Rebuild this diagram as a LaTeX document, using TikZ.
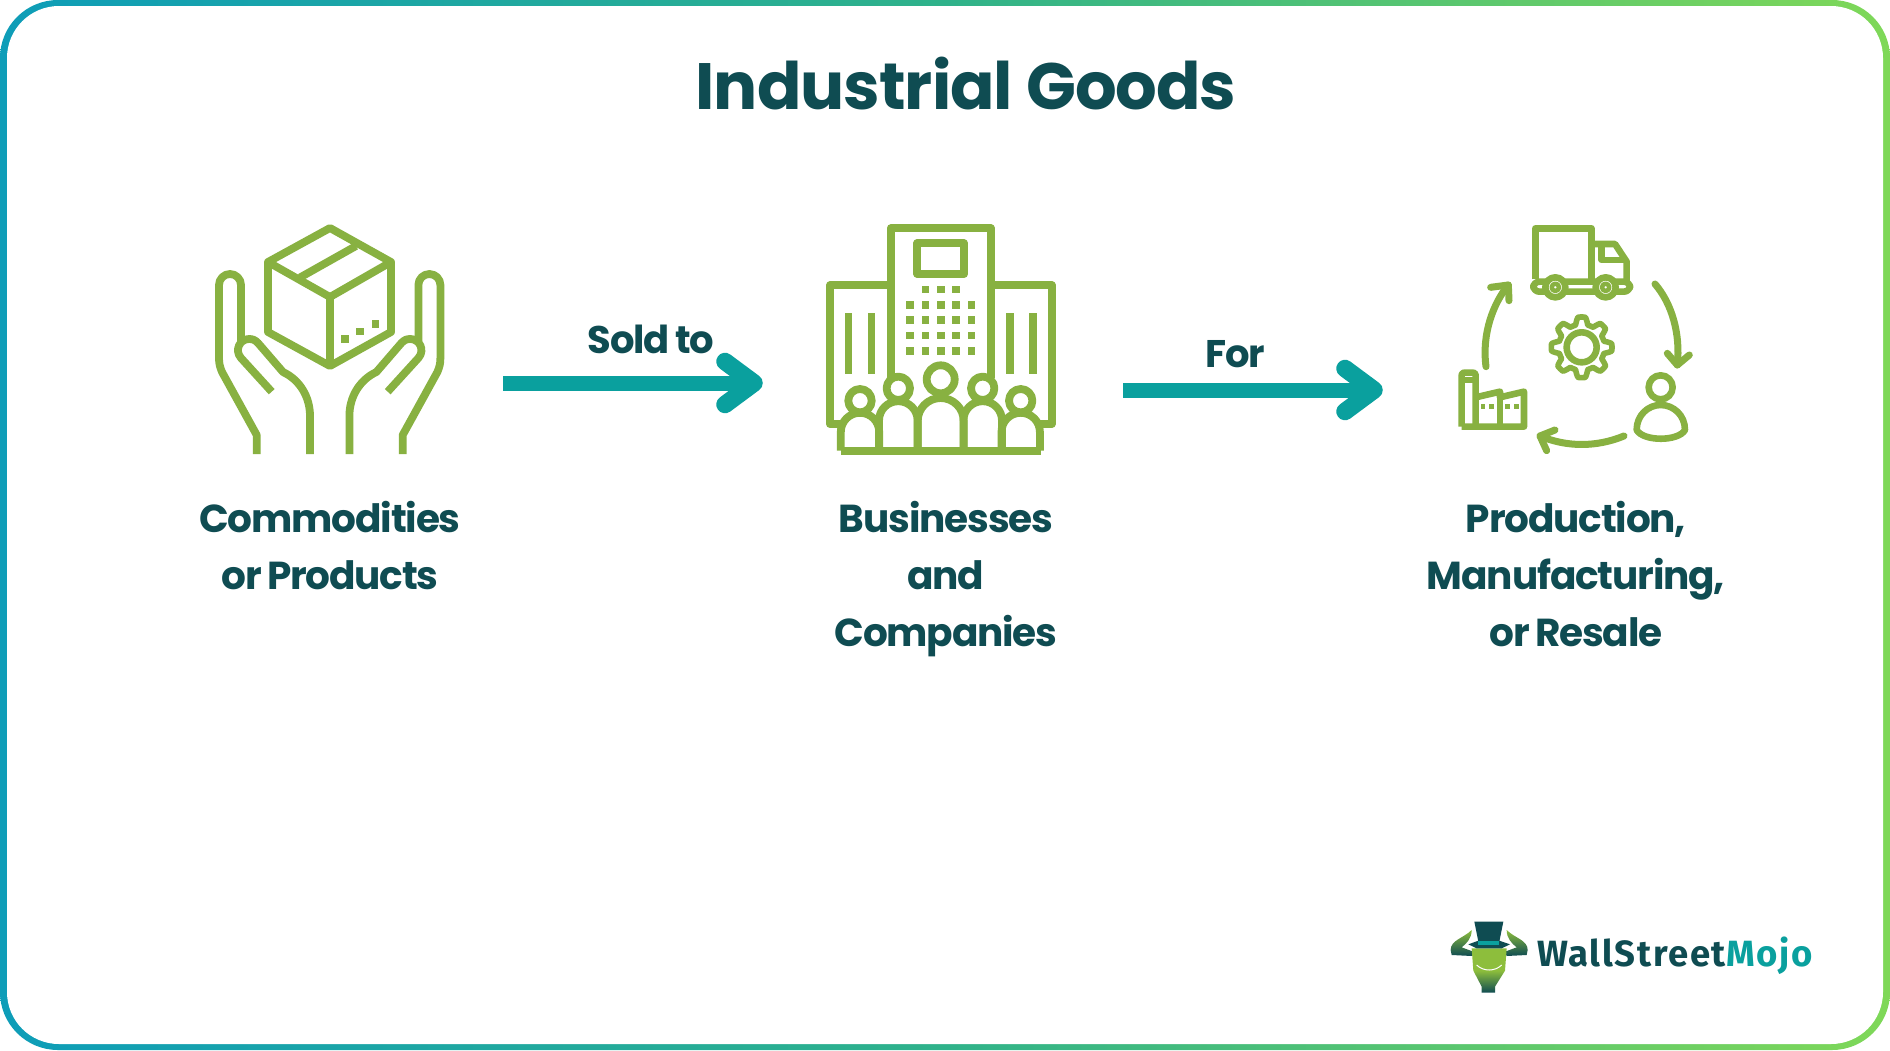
\documentclass[tikz,border=0pt]{standalone}
\usepackage{fontspec}
\setmainfont{Poppins}
\newfontfamily\titlefont{Poppins}[LetterSpace=-1.5]
\newfontfamily\capfont{Poppins}[LetterSpace=-3,WordSpace=0.75]
\newfontfamily\logofont{Fira Sans}[LetterSpace=4.5]
\usetikzlibrary{arrows.meta}
\definecolor{dteal}{HTML}{0F4C52}
\definecolor{mteal}{HTML}{0AA09E}
\definecolor{igreen}{HTML}{88B141}
\definecolor{bleft}{HTML}{0E9DB8}
\definecolor{bmid}{HTML}{2FB28A}
\definecolor{bright}{HTML}{7FD858}
\definecolor{lgreen}{HTML}{8DBE3C}
\tikzset{
 icon/.style={draw=igreen,line width=7.8pt,line join=round},
 smallicon/.style={draw=igreen,line width=6.6pt,line join=round},
 roundicon/.style={draw=igreen,line width=7pt,line join=round,line cap=round},
 dot/.style={fill=igreen},
 titlelabel/.style={font=\titlefont\bfseries\fontsize{65.5}{72}\selectfont,text=dteal,inner sep=0pt},
 caption/.style={font=\capfont\bfseries\fontsize{39}{57}\selectfont,text=dteal,align=center,inner sep=0pt,anchor=north},
 edgelabel/.style={font=\capfont\bfseries\fontsize{38.5}{44}\selectfont,text=dteal,inner sep=0pt},
 flow/.style={draw=mteal,line width=15pt},
 flowhead/.style={draw=mteal,line width=17.5pt,line cap=round,line join=round},
}
\begin{document}
\begin{tikzpicture}[x=1pt,y=-1pt]
\useasboundingbox (0,0) rectangle (1890,1050);
\fill[white] (0,0) rectangle (1890,1050);
% border
\shade[left color=bleft,right color=bright,middle color=bmid,rounded corners=58pt] (0,0) rectangle (1890,1050);
\fill[white,rounded corners=52pt] (7,6) rectangle (1883,1044);
% title
\node[titlelabel] (title) at (966,84) {Industrial Goods};
% hands and box
\begin{scope}[shift={(190,200)}]
 \draw[icon] (140,28) -- (78,62) -- (78,132) -- (140,166) -- (201,132) -- (201,62) -- cycle;
 \draw[icon] (78,62) -- (140,97) -- (201,62);
 \draw[icon] (140,97) -- (140,166);
 \draw[icon] (110,77.5) -- (166,46);
 \fill[dot] (151,135) rectangle +(7.7,7.7);
 \fill[dot] (166.3,127.7) rectangle +(7.7,7.7);
 \fill[dot] (181.7,120) rectangle +(7.7,7.7);
\end{scope}
\foreach \sh/\sc in {190/1,469.4/-1}{
\begin{scope}[shift={(\sh,200)},xscale=\sc]
 \draw[icon] (66.7,254) -- (66.7,235) -- (32,172) .. controls (30,167) and (29,164) .. (29,158) -- (29,85) arc[start angle=180,end angle=360,radius=11] -- (51,141);
 \draw[icon] (81.7,191.7) -- (51,158) .. controls (44,150) and (50,139) .. (59,139) .. controls (63,139) and (65,140) .. (68,143) -- (93,172) .. controls (110,180) and (120,197) .. (120,216) -- (120,254);
\end{scope}}
% buildings
\begin{scope}[shift={(810,210)}]
 \draw[icon] (80.7,168) -- (80.7,18.3) -- (180.7,18.3) -- (180.7,168);
 \draw[icon] (80.7,75.3) -- (20,75.3) -- (20,214) -- (32,214);
 \draw[icon] (180.7,75.3) -- (241.7,75.3) -- (241.7,214) -- (229,214);
 \draw[icon] (107.3,33.3) rectangle (154,64);
 \foreach \x in {346,392,438} \fill[dot] ({(\x-11.5)/3},{(238-11.5)/3}) rectangle +(7.7,7.7);
 \foreach \x in {300,346,392,438,484} \foreach \y in {284,330,376,422}
   \fill[dot] ({(\x-11.5)/3},{(\y-11.5)/3}) rectangle +(7.7,7.7);
 \foreach \x in {104,173,588,657} \fill[dot] ({\x/3},{308/3}) rectangle ({(\x+23)/3},{492/3});
 \draw[icon] (130.7,169.3) circle[radius=14];
 \draw[icon] (107.7,240.7) -- (107.7,211) arc[start angle=180,end angle=360,radius=23] -- (153.7,240.7);
 \foreach \c in {88.3,172.7}{
  \draw[icon] (\c,178.3) circle[radius=11.7];
  \draw[icon] ({\c-19.3},240.7) -- ({\c-19.3},210.5) arc[start angle=180,end angle=360,radius=19.3] -- ({\c+19.3},240.7);
 }
 \foreach \c in {50,210.7}{
  \draw[icon] (\c,190.7) circle[radius=11.7];
  \draw[icon] ({\c-19.2},240.7) -- ({\c-19.2},222) arc[start angle=180,end angle=360,radius=19.2] -- ({\c+19.2},240.7);
 }
 \draw[icon] (30.7,240.7) -- (230.7,240.7);
\end{scope}
% cycle icon
\begin{scope}[shift={(1440,210)},x=0.3333pt,y=-0.3333pt]
 \draw[smallicon] (286,208) -- (286,55) -- (454,55) -- (454,215);
 \draw[smallicon] (454,102) -- (525,102) -- (560,155) -- (560,215);
 \draw[smallicon] (485,102) -- (485,150) -- (560,150);
 \draw[smallicon,rounded corners=6pt] (280,215) rectangle (570,245);
 \foreach \c in {346,497}{
  \fill[white] (\c,232) circle[radius=32];
  \draw[smallicon] (\c,232) circle[radius=30];
  \draw[smallicon,line width=4.5pt] (\c,232) circle[radius=11];
 }
 \draw[roundicon] (645,222) .. controls (695,280) and (722,370) .. (712,465);
 \draw[roundicon] (682,430) -- (712,465) -- (748,435);
 \draw[roundicon] (138,470) .. controls (125,370) and (160,280) .. (205,225);
 \draw[roundicon] (152,232) -- (205,225) -- (207,272);
 \draw[roundicon] (552,678) .. controls (470,712) and (380,712) .. (300,678);
 \draw[roundicon] (345,660) -- (300,678) -- (320,722);
 \begin{scope}[shift={(425,412)}]
  \draw[smallicon,line width=5.6pt] plot[domain=0:360,samples=193,smooth] (\x:{80+11*max(-1,min(1,1.8*cos(8*\x)))}) -- cycle;
  \draw[smallicon] (0,0) circle[radius=45];
 \end{scope}
 \draw[smallicon] (662,532) circle[radius=36];
 \draw[smallicon] (590,660) .. controls (590,615) and (625,585) .. (662,585) .. controls (700,585) and (735,615) .. (735,660) .. controls (715,695) and (610,695) .. (590,660) -- cycle;
 \draw[smallicon] (65,650) -- (65,495) .. controls (65,488) and (70,488) .. (75,488) -- (97,488) .. controls (102,488) and (107,488) .. (107,495) -- (107,650);
 \draw[smallicon] (65,510) -- (107,510);
 \draw[smallicon] (65,650) -- (252,650) -- (252,545) -- (180,562) -- (180,545) -- (107,562);
 \draw[smallicon] (180,562) -- (180,650);
 \foreach \x in {122,148,195,222} \fill[dot] (\x,582) rectangle +(14,15);
\end{scope}
% arrows
\coordinate (a1s) at (503,383); \coordinate (a1e) at (754,383);
\coordinate (a2s) at (1123,390); \coordinate (a2e) at (1374,390);
\draw[flow] (a1s) -- (a1e);
\draw[flow] (a2s) -- (a2e);
\draw[flowhead] (a1e) ++(-29,-21.5) -- ++(29,21.5) -- ++(-29,21.5);
\draw[flowhead] (a2e) ++(-29,-21.5) -- ++(29,21.5) -- ++(-29,21.5);
% labels
\node[edgelabel,anchor=base] (sold) at (651,353) {Sold to};
\node[edgelabel,anchor=base] (for) at (1235,367) {For};
\node[caption] (c1) at (330,501) {Commodities\\or Products};
\node[caption] (c2) at (946,501) {Businesses\\and\\Companies};
\node[caption] (c3) at (1576,501) {Production,\\Manufacturing,\\or Resale};
% logo
\begin{scope}[shift={(1430,900)},x=0.3333pt,y=-0.3333pt]
 \shade[top color=lgreen,bottom color=dteal] (125,90) .. controls (100,115) and (62,120) .. (62,150) -- (65,165) -- (125,168) -- (130,155) -- (95,142) .. controls (110,130) and (125,115) .. (125,90) -- cycle;
 \shade[top color=lgreen,bottom color=dteal] (230,90) .. controls (255,115) and (293,120) .. (293,150) -- (290,165) -- (230,168) -- (225,155) -- (260,142) .. controls (245,130) and (230,115) .. (230,90) -- cycle;
 \shade[top color=lgreen,bottom color=dteal,middle color=lgreen] (125,145) -- (230,145) -- (225,212) -- (195,260) -- (195,278) -- (155,278) -- (155,260) -- (130,212) -- cycle;
 \fill[dteal] (133,65) -- (220,65) -- (208,125) -- (145,125) -- cycle;
 \fill[dteal] (115,133) -- (145,122) -- (208,122) -- (240,133) -- (215,145) -- (140,145) -- cycle;
 \fill[mteal] (145,122) rectangle (208,135);
 \draw[white,line width=1pt] (140,195) .. controls (160,215) and (195,215) .. (215,195);
\end{scope}
\node[anchor=base west,inner sep=0pt,font=\logofont\bfseries\fontsize{36.5}{40}\selectfont,text=dteal] (logo) at (1537,966.5) {WallStreet\textcolor{mteal}{Mojo}};
\end{tikzpicture}
\end{document}
